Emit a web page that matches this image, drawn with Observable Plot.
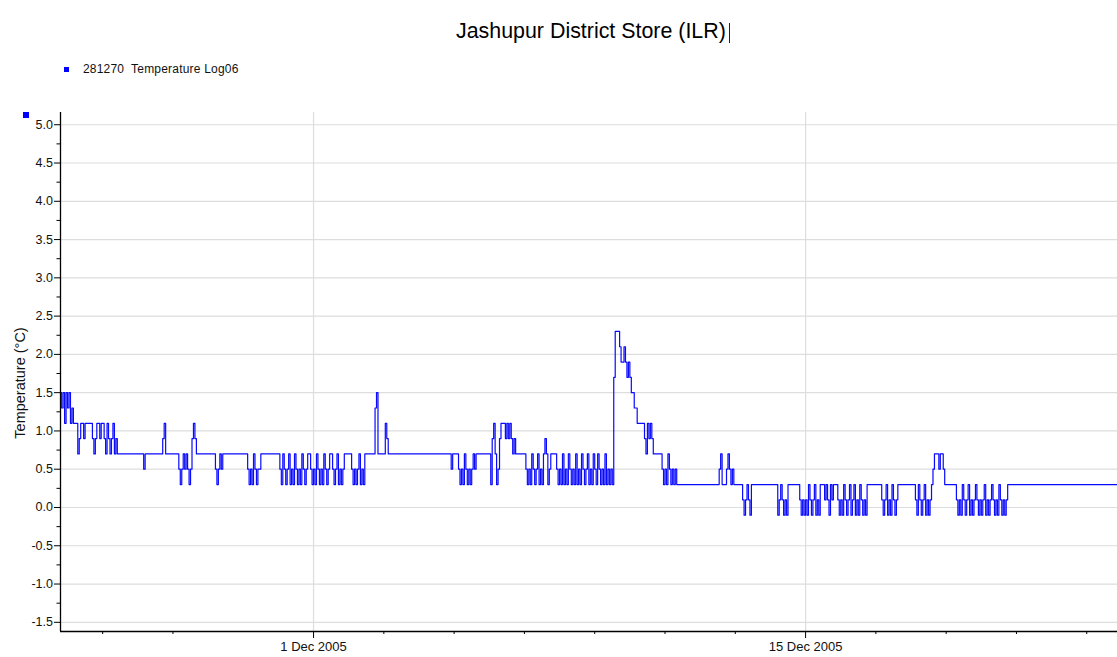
<!DOCTYPE html>
<html><head><meta charset="utf-8">
<script src="https://cdn.jsdelivr.net/npm/d3@7"></script>
<script src="https://cdn.jsdelivr.net/npm/@observablehq/plot@0.6"></script>
<style>
html,body{margin:0;padding:0;background:#fff;}
body{font-family:"Liberation Sans",Arial,sans-serif;color:#000;}
#page{position:relative;width:1117px;height:657px;overflow:hidden;}
#header{position:relative;height:100px;}
#title{position:absolute;left:456px;top:21px;font-size:21.4px;line-height:21px;white-space:nowrap;color:#000;}
#caret{display:inline-block;width:0;height:20px;border-left:1px solid #222;margin-left:3px;vertical-align:-5px;}
#legend{position:absolute;left:64px;top:63px;font-size:12px;line-height:12px;white-space:pre;}
#legend .sw{position:absolute;left:0;top:4px;width:5px;height:5px;background:#0000ff;}
#legend .lbl{position:absolute;left:19px;top:0;letter-spacing:0.2px;color:#111;}
#ylabel{position:absolute;left:20px;top:383px;transform:translate(-50%,-50%) rotate(-90deg);font-size:14.5px;white-space:nowrap;color:#111;}
#marker{position:absolute;left:23px;top:112px;width:6px;height:6px;background:#0000ff;}
#chart svg{display:block;}
</style></head>
<body><div id="page">
<div id="header">
  <div id="title">Jashupur District Store (ILR)<span id="caret"></span></div>
  <div id="legend"><span class="sw"></span><span class="lbl">281270  Temperature Log06</span></div>
</div>
<div id="chart"></div>
<div id="ylabel">Temperature (°C)</div>
<div id="marker"></div>
</div>
<script>
// Hourly temperature readings (°C). First reading: 23 Nov 2005 19:00 (UTC)
const firstReading = Date.UTC(2005, 10, 23, 19);
const nov23 = [1.5,1.3,1.5,1.1,1.5];
const nov24 = [1.3,1.5,1.1,1.3,1.1,1.1,1.1,0.7,0.9,1.1,1.1,0.9,1.1,1.1,1.1,1.1,1.1,0.9,0.7,0.9,1.1,1.1,0.9,1.1];
const nov25 = [1.1,0.9,0.7,1.1,0.9,0.7,0.9,1.1,0.7,0.9,0.7,0.7,0.7,0.7,0.7,0.7,0.7,0.7,0.7,0.7,0.7,0.7,0.7,0.7];
const nov26 = [0.7,0.7,0.7,0.7,0.5,0.7,0.7,0.7,0.7,0.7,0.7,0.7,0.7,0.7,0.7,0.7,0.7,0.9,1.1,0.7,0.7,0.7,0.7,0.7];
const nov27 = [0.7,0.7,0.7,0.7,0.5,0.3,0.5,0.7,0.5,0.7,0.5,0.3,0.5,0.9,1.1,0.9,0.7,0.7,0.7,0.7,0.7,0.7,0.7,0.7];
const nov28 = [0.7,0.7,0.7,0.7,0.7,0.5,0.3,0.5,0.7,0.5,0.7,0.7,0.7,0.7,0.7,0.7,0.7,0.7,0.7,0.7,0.7,0.7,0.7,0.7];
const nov29 = [0.7,0.7,0.7,0.5,0.3,0.5,0.3,0.7,0.5,0.3,0.5,0.5,0.7,0.7,0.7,0.7,0.7,0.7,0.7,0.7,0.7,0.7,0.7,0.7];
const nov30 = [0.7,0.5,0.3,0.7,0.5,0.3,0.5,0.7,0.3,0.5,0.3,0.7,0.5,0.3,0.5,0.3,0.7,0.5,0.3,0.5,0.7,0.7,0.5,0.3];
const dec01 = [0.5,0.3,0.7,0.5,0.3,0.5,0.3,0.7,0.5,0.3,0.5,0.7,0.7,0.5,0.3,0.5,0.7,0.3,0.5,0.3,0.5,0.7,0.7,0.7];
const dec02 = [0.7,0.7,0.5,0.3,0.5,0.3,0.5,0.7,0.3,0.5,0.3,0.7,0.7,0.7,0.7,0.7,0.7,0.7,1.3,1.5,0.7,0.7,0.7,0.7];
const dec03 = [0.7,1.1,0.9,0.7,0.7,0.7,0.7,0.7,0.7,0.7,0.7,0.7,0.7,0.7,0.7,0.7,0.7,0.7,0.7,0.7,0.7,0.7,0.7,0.7];
const dec04 = [0.7,0.7,0.7,0.7,0.7,0.7,0.7,0.7,0.7,0.7,0.7,0.7,0.7,0.7,0.7,0.7,0.7,0.7,0.7,0.7,0.7,0.7,0.5,0.7];
const dec05 = [0.7,0.7,0.7,0.5,0.3,0.5,0.3,0.7,0.5,0.3,0.5,0.3,0.5,0.7,0.5,0.7,0.7,0.7,0.7,0.7,0.7,0.7,0.7,0.7];
const dec06 = [0.7,0.3,0.9,1.1,0.7,0.3,0.5,0.9,1.1,1.1,1.1,0.9,1.1,0.9,1.1,0.9,0.7,0.9,0.7,0.7,0.7,0.7,0.7,0.7];
const dec07 = [0.7,0.5,0.3,0.5,0.3,0.7,0.5,0.3,0.5,0.7,0.3,0.5,0.3,0.7,0.9,0.7,0.3,0.5,0.7,0.7,0.7,0.7,0.5,0.3];
const dec08 = [0.5,0.3,0.7,0.3,0.5,0.3,0.7,0.5,0.3,0.5,0.3,0.7,0.3,0.5,0.3,0.7,0.5,0.3,0.5,0.7,0.3,0.5,0.3,0.7];
const dec09 = [0.5,0.3,0.7,0.5,0.3,0.5,0.3,0.7,0.3,0.5,0.3,0.5,0.3,1.7,2.3,2.3,2.3,2.1,1.9,1.9,2.1,1.9,1.7,1.9];
const dec10 = [1.7,1.5,1.5,1.3,1.3,1.1,1.1,1.1,1.1,1.1,0.9,0.7,1.1,0.9,1.1,0.9,0.7,0.7,0.7,0.7,0.7,0.7,0.5,0.3];
const dec11 = [0.5,0.3,0.7,0.5,0.3,0.5,0.3,0.5,0.3,0.3,0.3,0.3,0.3,0.3,0.3,0.3,0.3,0.3,0.3,0.3,0.3,0.3,0.3,0.3];
const dec12 = [0.3,0.3,0.3,0.3,0.3,0.3,0.3,0.3,0.3,0.3,0.3,0.3,0.3,0.5,0.7,0.3,0.3,0.3,0.5,0.7,0.5,0.3,0.5,0.3];
const dec13 = [0.3,0.3,0.3,0.3,0.3,0.1,-0.1,0.1,0.3,0.1,-0.1,0.3,0.3,0.3,0.3,0.3,0.3,0.3,0.3,0.3,0.3,0.3,0.3,0.3];
const dec14 = [0.3,0.3,0.3,0.3,0.3,-0.1,0.1,0.3,0.1,-0.1,0.1,-0.1,0.3,0.3,0.3,0.3,0.3,0.3,0.3,0.3,0.1,-0.1,0.1,-0.1];
const dec15 = [0.1,-0.1,0.3,0.1,-0.1,0.1,0.3,-0.1,0.1,-0.1,0.3,0.3,0.3,0.1,0.3,0.1,-0.1,0.3,0.1,0.3,0.3,0.3,0.1,-0.1];
const dec16 = [0.1,-0.1,0.3,0.1,-0.1,0.1,0.3,-0.1,0.1,0.3,-0.1,0.1,-0.1,0.3,0.1,-0.1,0.1,-0.1,0.3,0.3,0.3,0.3,0.3,0.3];
const dec17 = [0.3,0.3,0.3,0.3,0.1,-0.1,0.1,0.3,-0.1,0.1,-0.1,0.3,0.1,-0.1,0.1,0.3,0.3,0.3,0.3,0.3,0.3,0.3,0.3,0.3];
const dec18 = [0.3,0.3,0.3,0.1,-0.1,0.3,0.1,-0.1,0.1,0.3,-0.1,0.1,-0.1,0.1,0.3,0.5,0.7,0.7,0.7,0.5,0.7,0.7,0.5,0.3];
const dec19 = [0.3,0.3,0.3,0.3,0.3,0.3,0.3,0.1,-0.1,0.1,-0.1,0.3,0.1,-0.1,0.1,0.3,-0.1,0.1,-0.1,0.1,0.3,0.1,-0.1,0.1];
const dec20 = [-0.1,0.1,0.3,-0.1,0.1,-0.1,0.1,0.3,0.1,-0.1,0.1,-0.1,0.3,0.1,-0.1,0.1,-0.1,0.1,0.3,0.3,0.3,0.3,0.3,0.3];
const dec21 = [0.3,0.3,0.3,0.3,0.3,0.3,0.3,0.3,0.3,0.3,0.3,0.3,0.3,0.3,0.3,0.3,0.3,0.3,0.3,0.3,0.3,0.3,0.3,0.3];
const dec22 = [0.3,0.3,0.3,0.3,0.3,0.3,0.3,0.3,0.3,0.3,0.3,0.3,0.3,0.3,0.3,0.3,0.3,0.3,0.3,0.3,0.3,0.3,0.3,0.3];
const dec23 = [0.3,0.3,0.3,0.3,0.3,0.3,0.3,0.3,0.3,0.3,0.3,0.3,0.3,0.3,0.3,0.3,0.3,0.3,0.3,0.3,0.3,0.3,0.3,0.3];

// Axis settings
const xDomain = ["2005-11-23T19:12Z", "2005-12-23T21:00Z"];
const yDomain = [-1.62, 5.16];
const yMajorTicks = [-1.5,-1.0,-0.5,0.0,0.5,1.0,1.5,2.0,2.5,3.0,3.5,4.0,4.5,5.0];
const yMinorTicks = [-1.25,-0.75,-0.25,0.25,0.75,1.25,1.75,2.25,2.75,3.25,3.75,4.25,4.75];
const xLabelDays = ["2005-12-01", "2005-12-15"];
const xMinorDays = ["2005-11-25","2005-11-27","2005-12-03","2005-12-05","2005-12-07","2005-12-09","2005-12-11","2005-12-13","2005-12-17","2005-12-19","2005-12-21","2005-12-23"];

const allDays = [nov23,nov24,nov25,nov26,nov27,nov28,nov29,nov30,dec01,dec02,dec03,dec04,dec05,dec06,dec07,dec08,dec09,dec10,dec11,dec12,dec13,dec14,dec15,dec16,dec17,dec18,dec19,dec20,dec21,dec22,dec23];
const readings = allDays.flat().map((v, i) => ({t: new Date(firstReading + i * 3600000), v}));
const toDate = s => new Date(s.length === 10 ? s + "T00:00Z" : s);
const xd = xDomain.map(toDate);
const xLabels = xLabelDays.map(toDate);
const xMinor = xMinorDays.map(toDate);
const fmt = d3.utcFormat("%-d %b %Y");

const chart = Plot.plot({
  width: 1117,
  height: 557,
  marginTop: 12,
  marginBottom: 26,
  marginLeft: 60,
  marginRight: 0,
  x: {type: "utc", domain: xd},
  y: {domain: yDomain},
  style: {fontFamily: "'Liberation Sans', Arial, sans-serif", color: "#111", background: "#fff", overflow: "visible"},
  marks: [
    Plot.gridY(yMajorTicks, {stroke: "#dddddd", strokeOpacity: 1, strokeWidth: 1.2}),
    Plot.gridX(xLabels, {stroke: "#dddddd", strokeOpacity: 1, strokeWidth: 1.2}),
    Plot.line(readings, {x: "t", y: "v", curve: "step-after", stroke: "#0a0aff", strokeWidth: 1.2, clip: true}),
    Plot.ruleX([xd[0]], {stroke: "#000", strokeWidth: 1.3}),
    Plot.ruleY([yDomain[0]], {stroke: "#000", strokeWidth: 1.3}),
    Plot.axisY(yMajorTicks, {tickSize: 6, tickPadding: 1.5, tickFormat: d => d.toFixed(1), fontSize: 12.5, label: null, stroke: "#000"}),
    Plot.axisY(yMinorTicks, {tickSize: 3.5, tickFormat: () => "", label: null, stroke: "#000"}),
    Plot.axisX(xLabels, {tickSize: 7, tickPadding: 3, tickFormat: fmt, fontSize: 13, label: null, stroke: "#000"}),
    Plot.axisX(xMinor, {tickSize: 3, tickFormat: () => "", label: null, stroke: "#000"})
  ]
});
document.getElementById("chart").appendChild(chart);
</script>
</body></html>
